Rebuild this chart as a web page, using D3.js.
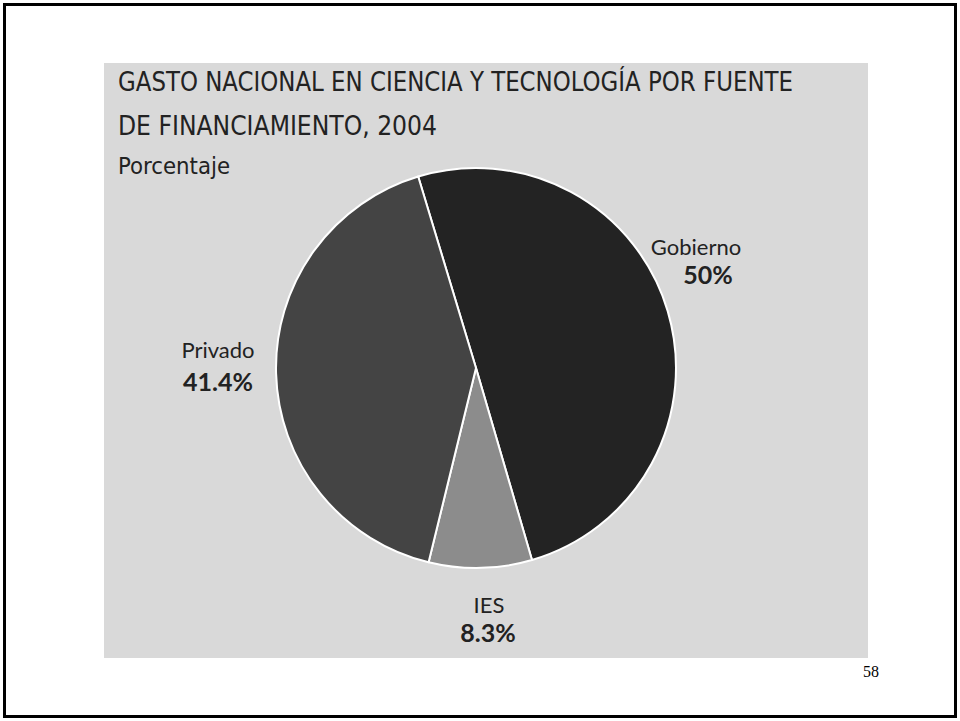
<!DOCTYPE html>
<html>
<head>
<meta charset="utf-8">
<script src="https://cdn.jsdelivr.net/npm/d3@7"></script>
<style>
  html, body { margin: 0; padding: 0; background: #fff; }
  svg { display: block; }
</style>
</head>
<body>
<script>
/* Data */
var sources = ["Gobierno", "IES", "Privado"],
	shares = [50, 8.3, 41.4],
	shareLabels = ["50%", "8.3%", "41.4%"],
	sliceColors = ["#232323", "#8c8c8c", "#444444"],
	titleLines = ["GASTO NACIONAL EN CIENCIA Y TECNOLOGÍA POR FUENTE", "DE FINANCIAMIENTO, 2004"],
	subtitle = "Porcentaje",
	pageNumber = "58";

/* Display setup */
var width = 960, height = 721,
	panel = {x: 104, y: 63, width: 764, height: 595},
	center = {x: 476, y: 368},
	radius = 200,
	svg = d3.select("body").append("svg")
		.attr("width", width)
		.attr("height", height);

// slide frame
svg.append("rect")
	.attr("x", 4.5).attr("y", 4.5)
	.attr("width", width - 9).attr("height", height - 9)
	.style("fill", "white")
	.style("stroke", "black")
	.style("stroke-width", 3);

// grey panel
svg.append("rect")
	.attr("x", panel.x).attr("y", panel.y)
	.attr("width", panel.width).attr("height", panel.height)
	.style("fill", "#d9d9d9");

var titleFont = "'DejaVu Sans Condensed', 'Liberation Sans Narrow', sans-serif";

svg.selectAll(".title")
	.data(titleLines)
	.enter().append("text")
		.attr("class", "title")
		.attr("x", 118)
		.attr("y", function(d, i) { return 91 + i * 44; })
		.attr("textLength", function(d, i) { return i == 0 ? 675 : 319; })
		.attr("lengthAdjust", "spacingAndGlyphs")
		.style("font-family", titleFont)
		.style("font-size", "27px")
		.style("fill", "#222")
		.text(function(d) { return d; });

svg.append("text")
	.attr("x", 118)
	.attr("y", 174)
	.attr("textLength", 112)
	.attr("lengthAdjust", "spacingAndGlyphs")
	.style("font-family", titleFont)
	.style("font-size", "23px")
	.style("fill", "#222")
	.text(subtitle);

/* Pie */
var startAngle = -16.8 * Math.PI / 180;
var pie = d3.pie()
	.sort(null)
	.value(function(d) { return d; })
	.startAngle(startAngle)
	.endAngle(startAngle + 2 * Math.PI);

var arc = d3.arc().innerRadius(0).outerRadius(radius);

var g = svg.append("g")
	.attr("transform", "translate(" + center.x + "," + center.y + ")");

g.selectAll("path")
	.data(pie(shares))
	.enter().append("path")
		.attr("d", arc)
		.style("fill", function(d, i) { return sliceColors[i]; })
		.style("stroke", "white")
		.style("stroke-width", 2)
		.style("stroke-linejoin", "round");

/* Labels (name above, bold share below) */
var labelPos = [
	{x: 696, sx: 708, name: 255, share: 284},
	{x: 489, sx: 488, name: 613, share: 642},
	{x: 218, sx: 218, name: 358, share: 391}
];
var labelFont = "Lato, 'Open Sans', sans-serif";

var labels = svg.selectAll(".lbl")
	.data(sources)
	.enter().append("g")
		.attr("class", "lbl");

labels.append("text")
	.attr("x", function(d, i) { return labelPos[i].x; })
	.attr("y", function(d, i) { return labelPos[i].name; })
	.attr("text-anchor", "middle")
	.style("font-family", labelFont)
	.style("font-size", "22px")
	.style("fill", "#222")
	.text(function(d) { return d; });

labels.append("text")
	.attr("x", function(d, i) { return labelPos[i].sx; })
	.attr("y", function(d, i) { return labelPos[i].share; })
	.attr("text-anchor", "middle")
	.style("font-family", labelFont)
	.style("font-size", "25px")
	.style("font-weight", "bold")
	.style("fill", "#222")
	.text(function(d, i) { return shareLabels[i]; });

svg.append("text")
	.attr("x", 871)
	.attr("y", 677)
	.attr("text-anchor", "middle")
	.style("font-family", "'Liberation Serif', 'Times New Roman', serif")
	.style("font-size", "16px")
	.style("fill", "#000")
	.text(pageNumber);
</script>
</body>
</html>
